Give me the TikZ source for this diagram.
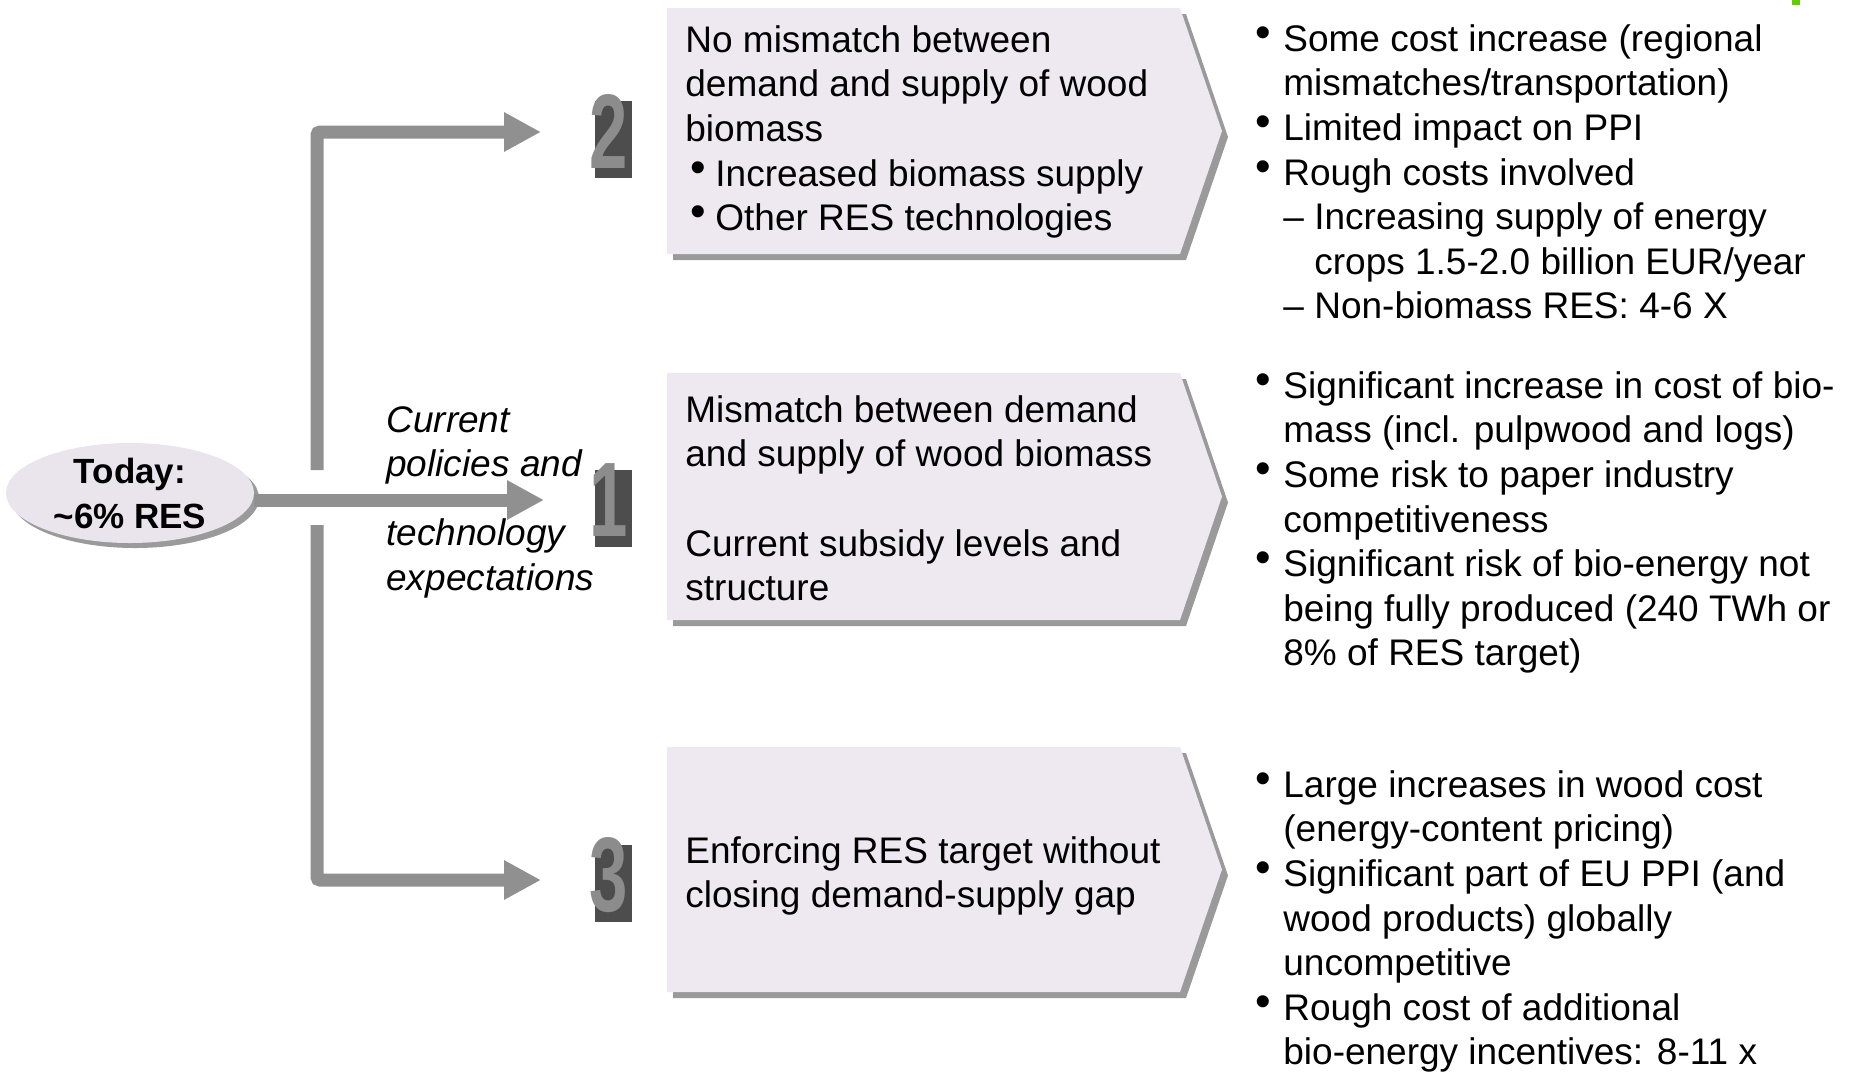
\documentclass[tikz,border=0pt]{standalone}
\usepackage{fontspec}
\setmainfont{Liberation Sans}
\usetikzlibrary{arrows.meta}
\usetikzlibrary{shapes.geometric}
\usetikzlibrary{shadows}

\definecolor{boxfill}{HTML}{EEE8F0}
\definecolor{ovalfill}{HTML}{EAE4EC}
\definecolor{shadowgray}{HTML}{9A9A9A}
\definecolor{arrowgray}{HTML}{909090}
\definecolor{digitgray}{HTML}{8C8C8C}
\definecolor{digitdark}{HTML}{4D4D4D}
\definecolor{titlegreen}{HTML}{66CC00}

\newcommand{\boxbullet}{\hspace*{2.5pt}\makebox[12.5pt][l]{\raisebox{0.1em}{\scalebox{1.2}{•}}}}
\newcommand{\resbullet}{\makebox[14pt][l]{\raisebox{0.1em}{\scalebox{1.2}{•}}}}
\newcommand{\reshang}{\hspace*{14pt}}
\newcommand{\resdash}{\hspace*{14pt}\makebox[15.5pt][l]{–}}
\newcommand{\resdashhang}{\hspace*{29.5pt}}

\tikzset{
  flow/.style={arrowgray, line width=6.5pt, rounded corners=1.5pt, -{Triangle[length=18.5pt,width=18.5pt]}},
  txt/.style={anchor=north west, inner sep=0pt, align=left, font=\fontsize{18.5}{22.3}\selectfont},
  digitshadow/.style={fill=digitdark, inner sep=0pt, minimum width=18.5pt, minimum height=38.5pt},
  digit/.style={text=digitgray, inner sep=0pt, font=\fontsize{53}{53}\selectfont\bfseries},
}

\begin{document}
\begin{tikzpicture}[x=0.5pt, y=-0.5pt]

\useasboundingbox (0,0) rectangle (1851,1073);

% scenario boxes
\foreach \t/\b in {8/254, 373/620, 747/992}{
  \fill[shadowgray] (673,\t+6) -- (1186,\t+6) -- (1228,{(\t+\b)/2+6}) -- (1186,\b+6) -- (673,\b+6) -- cycle;
  \fill[boxfill] (667,\t) -- (1180,\t) -- (1222,{(\t+\b)/2}) -- (1180,\b) -- (667,\b) -- cycle;
}

\fill[titlegreen] (1792,0) rectangle (1800,5);

\node[ellipse, fill=ovalfill, minimum width=124pt, minimum height=48pt, inner sep=0pt, align=center,
  font=\fontsize{17.5}{22.5}\selectfont\bfseries,
  general shadow={fill=shadowgray, shadow xshift=2.5pt, shadow yshift=-2.5pt}] (today) at (130,493) {Today:\\\textasciitilde 6\% RES};

\coordinate (gapA) at (317,470);
\coordinate (gapB) at (317,525);
\coordinate (trunktop) at (317,132);
\coordinate (trunkbot) at (317,880);
\coordinate (tip2) at (541,132);
\coordinate (tip1) at (544,500);
\coordinate (tip3) at (541,880);

\draw[flow] (gapA) -- (trunktop) -- (tip2);
\draw[flow] (today.east |- tip1) -- (tip1);
\draw[flow] (gapB) -- (trunkbot) -- (tip3);

% numbers
\foreach \n/\y in {2/131, 1/500, 3/875}{
  \node[digitshadow] (shade\n) at (613.5,\y+8) {};
  \node[digit] (num\n) at (609,\y) {\scalebox{0.65}[1]{\n}};
}

\node[txt, font=\fontsize{18.5}{22.3}\selectfont\itshape] (policy) at (386,406) {Current\\policies and\\[12pt]technology\\expectations};

\node[txt] (box2) at (685,25) {No mismatch between\\demand and supply of wood\\biomass\\\boxbullet Increased biomass supply\\\boxbullet Other RES technologies};
\node[txt] (box1) at (685,395) {Mismatch between demand\\and supply of wood biomass\\[22.3pt]Current subsidy levels and\\structure};
\node[txt] (box3) at (685,836) {Enforcing RES target without\\closing demand-supply gap};

\node[txt] (res2) at (1255,24) {\resbullet Some cost increase (regional\\\reshang mismatches/transportation)\\\resbullet Limited impact on PPI\\\resbullet Rough costs involved\\\resdash Increasing supply of energy\\\resdashhang crops 1.5-2.0 billion EUR/year\\\resdash Non-biomass RES: 4-6 X};
\node[txt] (res1) at (1255,371) {\resbullet Significant increase in cost of bio-\\\reshang mass (incl. pulpwood and logs)\\\resbullet Some risk to paper industry\\\reshang competitiveness\\\resbullet Significant risk of bio-energy not\\\reshang being fully produced (240 TWh or\\\reshang 8\% of RES target)};
\node[txt] (res3) at (1255,770) {\resbullet Large increases in wood cost\\\reshang (energy-content pricing)\\\resbullet Significant part of EU PPI (and\\\reshang wood products) globally\\\reshang uncompetitive\\\resbullet Rough cost of additional\\\reshang bio-energy incentives: 8-11 x};

\end{tikzpicture}
\end{document}
